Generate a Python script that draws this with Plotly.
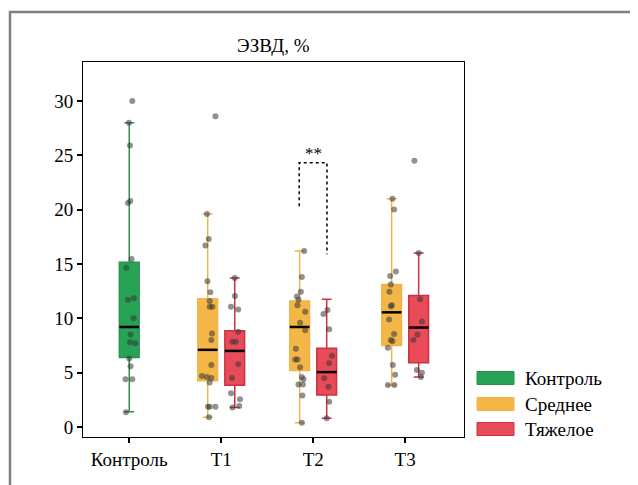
import plotly.graph_objects as go

# ---------------- data ----------------
categories = ["Контроль", "T1", "T2", "T3"]
series_names = ["Контроль", "Среднее", "Тяжелое"]

# box statistics (lower whisker, q1, median, q3, upper whisker)
ctrl_stats = [1.4, 6.4, 9.2, 15.15, 28.0]
mod_t1_stats = [0.9, 4.25, 7.1, 11.8, 19.6]
sev_t1_stats = [1.8, 3.85, 7.0, 8.85, 13.7]
mod_t2_stats = [0.4, 5.2, 9.2, 11.6, 16.2]
sev_t2_stats = [0.8, 2.95, 5.05, 7.25, 11.75]
mod_t3_stats = [3.85, 7.5, 10.55, 13.1, 21.0]
sev_t3_stats = [4.6, 5.9, 9.15, 12.1, 16.0]

# individual observations and their horizontal jitter (category units)
ctrl_vals = [30.0, 28.0, 25.9, 20.6, 20.8, 15.45, 14.65, 11.7, 11.85, 10.0, 8.5,
             7.8, 7.7, 6.3, 5.6, 4.4, 4.4, 1.35]
ctrl_jit = [0.033, -0.003, 0.008, -0.014, 0.011, 0.025, -0.033, -0.014, 0.051,
            0.047, 0.014, 0.008, 0.065, 0.0, 0.014, -0.040, 0.033, -0.036]

mod_t1_vals = [28.6, 19.6, 17.3, 16.7, 13.4, 12.4, 11.6, 11.07, 11.07, 8.6, 8.0,
               5.7, 4.7, 4.6, 4.5, 4.1, 1.87, 1.87, 1.87, 0.9]
mod_t1_jit = [0.084, -0.008, 0.011, -0.025, -0.003, 0.029, 0.022, 0.022, 0.051,
              0.047, 0.040, 0.040, -0.062, -0.008, 0.040, 0.022, 0.003, 0.022,
              0.084, 0.014]

sev_t1_vals = [13.7, 12.05, 11.07, 10.8, 8.77, 7.85, 7.85, 5.77, 4.5, 3.1, 2.55,
               1.8, 1.93]
sev_t1_jit = [0.0, 0.002, -0.041, 0.038, 0.038, -0.024, 0.013, 0.038, -0.030,
              -0.041, 0.057, -0.024, 0.049]

mod_t2_vals = [16.2, 13.8, 12.45, 12.0, 11.7, 11.2, 10.6, 9.6, 8.9, 7.2, 6.2, 6.2,
               5.5, 4.6, 4.4, 3.9, 3.9, 2.9, 0.4]
mod_t2_jit = [0.049, 0.024, 0.013, -0.030, -0.013, -0.024, 0.060, 0.005, 0.060,
              -0.041, -0.024, -0.049, 0.005, 0.024, 0.041, -0.013, 0.035, 0.030,
              0.024]

sev_t2_vals = [10.76, 10.4, 9.0, 6.56, 5.86, 4.48, 3.7, 2.33, 0.8]
sev_t2_jit = [0.009, -0.035, 0.027, 0.057, 0.027, -0.027, 0.020, 0.027, 0.0]

mod_t3_vals = [21.0, 20.0, 14.3, 13.9, 13.1, 12.45, 11.2, 11.1, 9.9, 8.55, 8.0,
               7.9, 7.3, 5.7, 4.8, 3.86, 3.86]
mod_t3_jit = [0.009, 0.027, 0.046, -0.016, -0.009, -0.024, 0.002, -0.009, -0.027,
              0.027, -0.009, 0.009, -0.041, 0.013, 0.038, -0.041, 0.030]

sev_t3_vals = [24.5, 16.0, 11.75, 9.7, 8.5, 8.0, 5.24, 5.0, 4.6]
sev_t3_jit = [-0.046, 0.0, 0.016, 0.035, -0.013, -0.057, -0.020, 0.035, 0.024]

# significance bracket (T2: Среднее vs Тяжелое)
sig_label = "**"
sig_left_y = 20.3
sig_top_y = 24.3
sig_right_y = 15.9

# ---------------- styling ----------------
FONT = "Liberation Serif"
FS = 19
colors = {
    "Контроль": dict(fill="rgba(20,155,70,0.92)", line="#2f8f52"),
    "Среднее": dict(fill="rgba(242,176,55,0.92)", line="#efb44c"),
    "Тяжелое": dict(fill="rgba(232,60,75,0.92)", line="#c93241"),
}
OFF = 0.147
BOXW = 0.215

groups = [
    ("Контроль", 0, 0.0, ctrl_stats, ctrl_vals, ctrl_jit),
    ("Среднее", 1, -OFF, mod_t1_stats, mod_t1_vals, mod_t1_jit),
    ("Тяжелое", 1, OFF, sev_t1_stats, sev_t1_vals, sev_t1_jit),
    ("Среднее", 2, -OFF, mod_t2_stats, mod_t2_vals, mod_t2_jit),
    ("Тяжелое", 2, OFF, sev_t2_stats, sev_t2_vals, sev_t2_jit),
    ("Среднее", 3, -OFF, mod_t3_stats, mod_t3_vals, mod_t3_jit),
    ("Тяжелое", 3, OFF, sev_t3_stats, sev_t3_vals, sev_t3_jit),
]

fig = go.Figure()

med_x, med_y = [], []
pts_x, pts_y = [], []
for name, ci, off, st, vals, jit in groups:
    pos = ci + off
    c = colors[name]
    fig.add_trace(go.Box(
        x=[pos], lowerfence=[st[0]], q1=[st[1]], median=[st[2]], q3=[st[3]],
        upperfence=[st[4]], width=BOXW, whiskerwidth=0.5,
        fillcolor=c["fill"], line=dict(color=c["line"], width=1.5),
        boxpoints=False, showlegend=False, hoverinfo="skip",
    ))
    med_x += [pos - BOXW / 2, pos + BOXW / 2, None]
    med_y += [st[2], st[2], None]
    pts_x += [pos + j for j in jit]
    pts_y += list(vals)

fig.add_trace(go.Scatter(x=med_x, y=med_y, mode="lines",
                         line=dict(color="black", width=2.5),
                         showlegend=False, hoverinfo="skip"))
fig.add_trace(go.Scatter(x=pts_x, y=pts_y, mode="markers",
                         marker=dict(size=6, color="rgba(55,55,55,0.55)"),
                         showlegend=False, hoverinfo="skip"))

# significance bracket
bx0, bx1 = 2 - OFF - 0.005, 2 + OFF + 0.003
fig.add_trace(go.Scatter(
    x=[bx0, bx0, bx1, bx1], y=[sig_left_y, sig_top_y, sig_top_y, sig_right_y],
    mode="lines", line=dict(color="black", width=1.5, dash="dot"),
    showlegend=False, hoverinfo="skip"))
fig.add_annotation(x=2, y=sig_top_y, text=sig_label, showarrow=False,
                   yanchor="bottom", yshift=-2,
                   font=dict(family=FONT, size=17, color="black"))

# geometry (figure pixel coords; page has an 8px body margin)
W, H = 630, 477
L, R, T, B = 75, 456, 54, 429
def px(xp):
    return (xp - L) / (R - L)
def py(yp):
    return (B - yp) / (B - T)

# outer gray frame
fig.add_shape(type="rect", xref="paper", yref="paper",
              x0=px(2), x1=px(660), y0=py(520), y1=py(4),
              line=dict(color="#7f7f7f", width=2.5), fillcolor="rgba(0,0,0,0)",
              layer="above")

# title
fig.add_annotation(xref="paper", yref="paper", x=0.5, y=py(37),
                   text="ЭЗВД, %", showarrow=False, xanchor="center",
                   yanchor="middle", font=dict(family=FONT, size=FS, color="black"))

# custom legend
leg_y = [370, 396, 421]
for name, yc in zip(series_names, leg_y):
    c = colors[name]
    fig.add_shape(type="rect", xref="paper", yref="paper",
                  x0=px(469), x1=px(506), y0=py(yc + 6.5), y1=py(yc - 6.5),
                  fillcolor=c["fill"], line=dict(color=c["line"], width=1))
    fig.add_annotation(xref="paper", yref="paper", x=px(515), y=py(yc),
                       text=name, showarrow=False, xanchor="left",
                       yanchor="middle",
                       font=dict(family=FONT, size=FS, color="black"))

fig.update_layout(
    width=W, height=H,
    margin=dict(l=L, r=W - R, t=T, b=H - B),
    paper_bgcolor="white", plot_bgcolor="white",
    font=dict(family=FONT, size=FS, color="black"),
    showlegend=False,
)
fig.update_xaxes(range=[-0.503, 3.64], tickvals=[0, 1, 2, 3], ticktext=categories,
                 showgrid=False, zeroline=False, showline=True, linecolor="black",
                 linewidth=1, mirror=True, ticks="outside", ticklen=5, tickwidth=2,
                 tickcolor="black", tickfont=dict(family=FONT, size=FS))
fig.update_yaxes(range=[-0.92, 33.58], tickvals=[0, 5, 10, 15, 20, 25, 30],
                 showgrid=False, zeroline=False, showline=True, linecolor="black",
                 linewidth=1, mirror=True, ticks="outside", ticklen=5, tickwidth=2,
                 tickcolor="black", tickfont=dict(family=FONT, size=FS))

fig.write_html("out.html")
